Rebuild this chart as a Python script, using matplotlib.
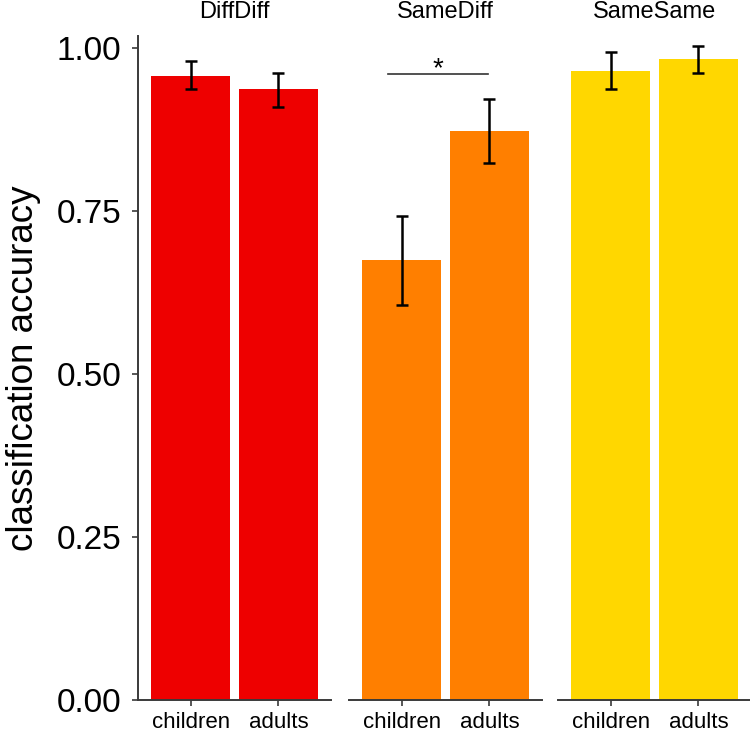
import matplotlib
matplotlib.use("Agg")
import matplotlib.pyplot as plt
import numpy as np

plt.rcParams['font.family'] = ['Liberation Sans', 'DejaVu Sans']

conditions = ["DiffDiff", "SameDiff", "SameSame"]
groups = ["children", "adults"]
accuracy = {
    "DiffDiff": [0.957, 0.936],
    "SameDiff": [0.674, 0.872],
    "SameSame": [0.964, 0.982],
}
err_low = {
    "DiffDiff": [0.937, 0.909],
    "SameDiff": [0.605, 0.823],
    "SameSame": [0.937, 0.962],
}
err_high = {
    "DiffDiff": [0.979, 0.962],
    "SameDiff": [0.742, 0.922],
    "SameSame": [0.993, 1.002],
}
colors = {"DiffDiff": "#EE0000", "SameDiff": "#FF7F00", "SameSame": "#FFD700"}
yticks = [0.0, 0.25, 0.5, 0.75, 1.0]
ytick_labels = ["0.00", "0.25", "0.50", "0.75", "1.00"]

W, H = 750, 735
fig = plt.figure(figsize=(W / 100, H / 100), dpi=100)

lefts = [138, 349, 558]
pw = 193
top_px, bot_px = 36, 700
axc = "#3a3a3a"

for i, cond in enumerate(conditions):
    ax = fig.add_axes([lefts[i] / W, (H - bot_px) / H, pw / W, (bot_px - top_px) / H])
    x = np.arange(1, len(groups) + 1)
    vals = np.array(accuracy[cond])
    lo = vals - np.array(err_low[cond])
    hi = np.array(err_high[cond]) - vals
    ax.bar(x, vals, width=0.9, color=colors[cond], edgecolor='none', zorder=2)
    ax.errorbar(x, vals, yerr=[lo, hi], fmt='none', ecolor='black',
                elinewidth=1.8, capsize=4.5, capthick=1.8, zorder=3)
    ax.set_xlim(0.4, 2.6)
    ax.set_ylim(0, 1.018)
    ax.set_xticks(x)
    ax.set_xticklabels(groups, fontsize=16)
    ax.tick_params(axis='x', length=4, width=1.2, color=axc, pad=5)
    for s in ['top', 'right']:
        ax.spines[s].set_visible(False)
    ax.spines['bottom'].set_color(axc)
    ax.spines['bottom'].set_linewidth(1.4)
    if i == 0:
        ax.spines['left'].set_color(axc)
        ax.spines['left'].set_linewidth(1.4)
        ax.set_yticks(yticks)
        ax.set_yticklabels(ytick_labels, fontsize=24)
        ax.tick_params(axis='y', length=4, width=1.2, color=axc, pad=8)
        ax.set_ylabel("classification accuracy", fontsize=26.5, labelpad=11)
    else:
        ax.spines['left'].set_visible(False)
        ax.set_yticks([])
    ax.set_title(cond, fontsize=17, pad=13)
    if cond == "SameDiff":
        ax.plot([0.85, 1.98], [0.959, 0.959], color='#333333', lw=1.2, zorder=3)
        ax.text(1.415, 0.957, "*", ha='center', va='baseline', fontsize=20)

fig.savefig("out.png", dpi=100)
